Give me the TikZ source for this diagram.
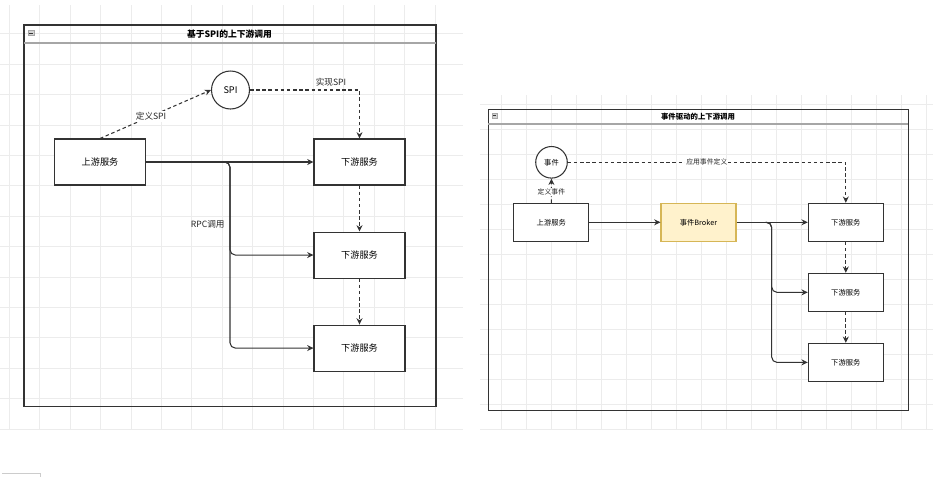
\documentclass[tikz,border=0pt]{standalone}
\usepackage{fontspec}
\setmainfont{Noto Sans CJK SC}
\usepackage{xcolor}
\usetikzlibrary{arrows.meta,positioning,calc}

\definecolor{gridc}{RGB}{236,236,236}
\definecolor{linec}{RGB}{51,51,51}
\definecolor{brokerfill}{RGB}{255,242,204}
\definecolor{brokerdraw}{RGB}{214,182,86}

\begin{document}
\begin{tikzpicture}[
    x=0.02cm, y=-0.02cm,
    block/.style={rectangle, draw=linec, fill=white, line width=0.6pt, minimum width=1.82cm, minimum height=0.92cm, align=center, font=\fontsize{5.2}{6}\selectfont},
    rblock/.style={rectangle, draw=linec, fill=white, line width=0.6pt, minimum width=1.5cm, minimum height=0.76cm, align=center, font=\fontsize{4.15}{5}\selectfont},
    yblock/.style={rblock, draw=brokerdraw, fill=brokerfill},
    ring/.style={circle, draw=linec, fill=white, line width=0.6pt, inner sep=0pt, align=center},
    arr/.style={-{Stealth[length=3.6pt,width=3.4pt]}, draw=linec, line width=0.6pt},
    darr/.style={arr, dash pattern=on 2pt off 1.5pt},
    lbl/.style={inner sep=0.8pt, text=black!85, font=\fontsize{4.9}{6}\selectfont},
    rlbl/.style={inner sep=0.6pt, text=black!85, font=\fontsize{3.9}{5}\selectfont},
    title/.style={font=\fontsize{5}{6}\selectfont\bfseries},
    frame/.style={draw=linec, line width=0.65pt}
]
\useasboundingbox (0,0) rectangle (949,477);

% grid backgrounds
\begin{scope}
\clip (0,5) rectangle (463,430);
\foreach \gx in {0,...,14} \draw[gridc, line width=0.4pt] ({9.3+30.4*\gx},0) -- ({9.3+30.4*\gx},430);
\foreach \gy in {0,...,14} \draw[gridc, line width=0.4pt] (0,{3.3+30.4*\gy}) -- (463,{3.3+30.4*\gy});
\end{scope}
\begin{scope}
\clip (480,95) rectangle (933,429);
\foreach \gx in {-1,...,17} \draw[gridc, line width=0.4pt] ({501.7+25*\gx},95) -- ({501.7+25*\gx},429);
\foreach \gy in {-1,...,13} \draw[gridc, line width=0.4pt] (480,{104+25*\gy}) -- (933,{104+25*\gy});
\end{scope}
\draw[gray!40, line width=0.4pt] (2,473.3) -- (40,473.3) -- (40,477);

% SPI panel
\draw[frame] (24,25) rectangle (436,406.5);
\draw[gray!70, line width=1pt] (24,43) -- (436,43);
\draw[fill=gray!35, draw=gray!70, line width=0.3pt] (28,30.5) rectangle (34,35.5);
\draw[linec, line width=0.4pt] (29.3,33) -- (32.7,33);
\node[title] (t1) at (229.5,34) {基于SPI的上下游调用};

\node[block] (up) at (100,162) {上游服务};
\node[block] (dn1) at (359.5,162) {下游服务};
\node[block, below=0.92cm of dn1] (dn2) {下游服务};
\node[block, below=0.92cm of dn2] (dn3) {下游服务};
\node[ring, minimum size=0.76cm, font=\fontsize{5.2}{6}\selectfont] (spi) at (230.5,90) {SPI};
\coordinate (rpc) at (230,162);

\draw[arr] (up) -- (dn1);
\draw[arr, rounded corners=3pt] ($(rpc)+(-6,0)$) -- (rpc) |- (dn2.west);
\draw[arr, rounded corners=3pt] ($(rpc)+(-6,0)$) -- (rpc) |- (dn3.west);
\node[lbl] (l1) at (207.7,224) {RPC调用};
\draw[darr] (up.north) -- node[lbl, fill=white, pos=0.46] (l2) {定义SPI} (spi.west);
\draw[darr] (spi.east) -| node[lbl, pos=0.37, above=1.2pt] (l3) {实现SPI} (dn1.north);
\draw[darr] (dn1) -- (dn2);
\draw[darr] (dn2) -- (dn3);

% event panel
\draw[frame] (488.3,109.3) rectangle (908.3,410.3);
\draw[gray!70, line width=0.9pt] (488.3,124) -- (908.3,124);
\draw[fill=gray!35, draw=gray!70, line width=0.3pt] (492.4,113.6) rectangle (497,117.8);
\draw[linec, line width=0.35pt] (493.4,115.7) -- (496,115.7);
\node[title, font=\fontsize{4.2}{5}\selectfont\bfseries] (t2) at (698,117) {事件驱动的上下游调用};

\node[rblock] (rup) at (551.3,222.3) {上游服务};
\node[yblock] (broker) at (698.5,222.3) {事件Broker};
\node[rblock] (rdn1) at (845.8,222.3) {下游服务};
\node[rblock, below=0.62cm of rdn1] (rdn2) {下游服务};
\node[rblock, below=0.62cm of rdn2] (rdn3) {下游服务};
\node[ring, minimum size=0.632cm, font=\fontsize{4.15}{5}\selectfont] (evt) at (551.5,162.3) {事件};
\coordinate (bus) at (771.7,222.3);

\draw[arr] (rup) -- (broker);
\draw[arr] (broker) -- (rdn1);
\draw[arr, rounded corners=3pt] ($(bus)+(-6,0)$) -- (bus) |- (rdn2.west);
\draw[arr, rounded corners=3pt] ($(bus)+(-6,0)$) -- (bus) |- (rdn3.west);
\draw[darr] (rup) -- node[rlbl, fill=white, pos=0.45] (l4) {定义事件} (evt);
\draw[darr] (evt.east) -| node[rlbl, fill=white, pos=0.25] (l5) {应用事件定义} (rdn1.north);
\draw[darr] (rdn1) -- (rdn2);
\draw[darr] (rdn2) -- (rdn3);

\end{tikzpicture}
\end{document}
